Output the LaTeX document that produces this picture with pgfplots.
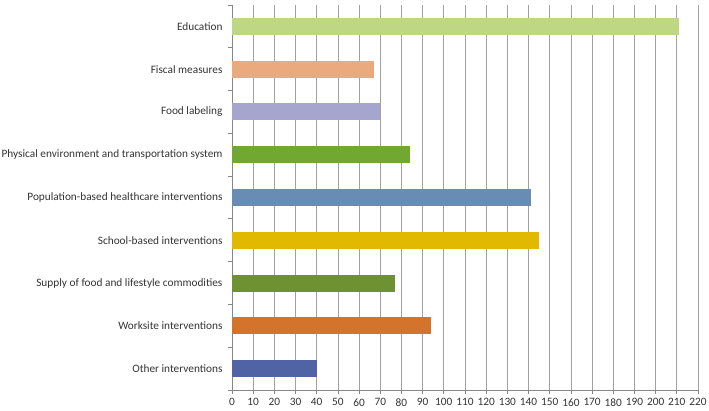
\documentclass[border=0pt]{standalone}
\usepackage{fontspec}
\setmainfont{Carlito}
\usepackage{pgfplots}
\pgfplotsset{compat=1.18}

\definecolor{cEdu}{RGB}{189,215,130}
\definecolor{cFis}{RGB}{235,170,125}
\definecolor{cFood}{RGB}{165,165,205}
\definecolor{cPhys}{RGB}{112,168,50}
\definecolor{cPop}{RGB}{105,140,180}
\definecolor{cSch}{RGB}{225,185,0}
\definecolor{cSup}{RGB}{110,145,50}
\definecolor{cWork}{RGB}{212,116,44}
\definecolor{cOth}{RGB}{80,100,165}
\definecolor{axgray}{RGB}{134,134,134}
\definecolor{grgray}{RGB}{160,160,160}

\begin{document}
\begin{tikzpicture}
\useasboundingbox (-232pt,-20pt) rectangle (477pt,390pt);
\begin{axis}[
  at={(0,0)}, anchor=south west,
  width=466pt, height=385pt, scale only axis,
  xbar, bar width=17pt, bar shift=0pt,
  xmin=0, xmax=220, xtick={0,10,...,220},
  ymin=-0.5, ymax=8.5, y dir=reverse,
  ytick={0,...,8},
  yticklabels={Education,Fiscal measures,Food labeling,Physical environment and transportation system,Population-based healthcare interventions,School-based interventions,Supply of food and lifestyle commodities,Worksite interventions,Other interventions},
  minor ytick={-0.5,0.5,...,8.5},
  major y tick style={draw=none},
  minor tick length=4pt, major tick length=4pt,
  tick align=outside,
  axis x line*=bottom, axis y line*=left,
  axis line style={axgray, line width=0.8pt, -},
  tick style={axgray, line width=0.8pt},
  xmajorgrids, major x grid style={grgray, line width=0.8pt},
  tick label style={font=\fontsize{11.3}{13}\selectfont, text=black!80},
  /pgf/number format/assume math mode=true,
  yticklabel style={xshift=-2pt},
  xticklabel style={yshift=-1pt},
]
\addplot[fill=cEdu, draw=none] coordinates {(211,0)};
\addplot[fill=cFis, draw=none] coordinates {(67,1)};
\addplot[fill=cFood, draw=none] coordinates {(70,2)};
\addplot[fill=cPhys, draw=none] coordinates {(84,3)};
\addplot[fill=cPop, draw=none] coordinates {(141,4)};
\addplot[fill=cSch, draw=none] coordinates {(145,5)};
\addplot[fill=cSup, draw=none] coordinates {(77,6)};
\addplot[fill=cWork, draw=none] coordinates {(94,7)};
\addplot[fill=cOth, draw=none] coordinates {(40,8)};
\end{axis}
\end{tikzpicture}
\end{document}
